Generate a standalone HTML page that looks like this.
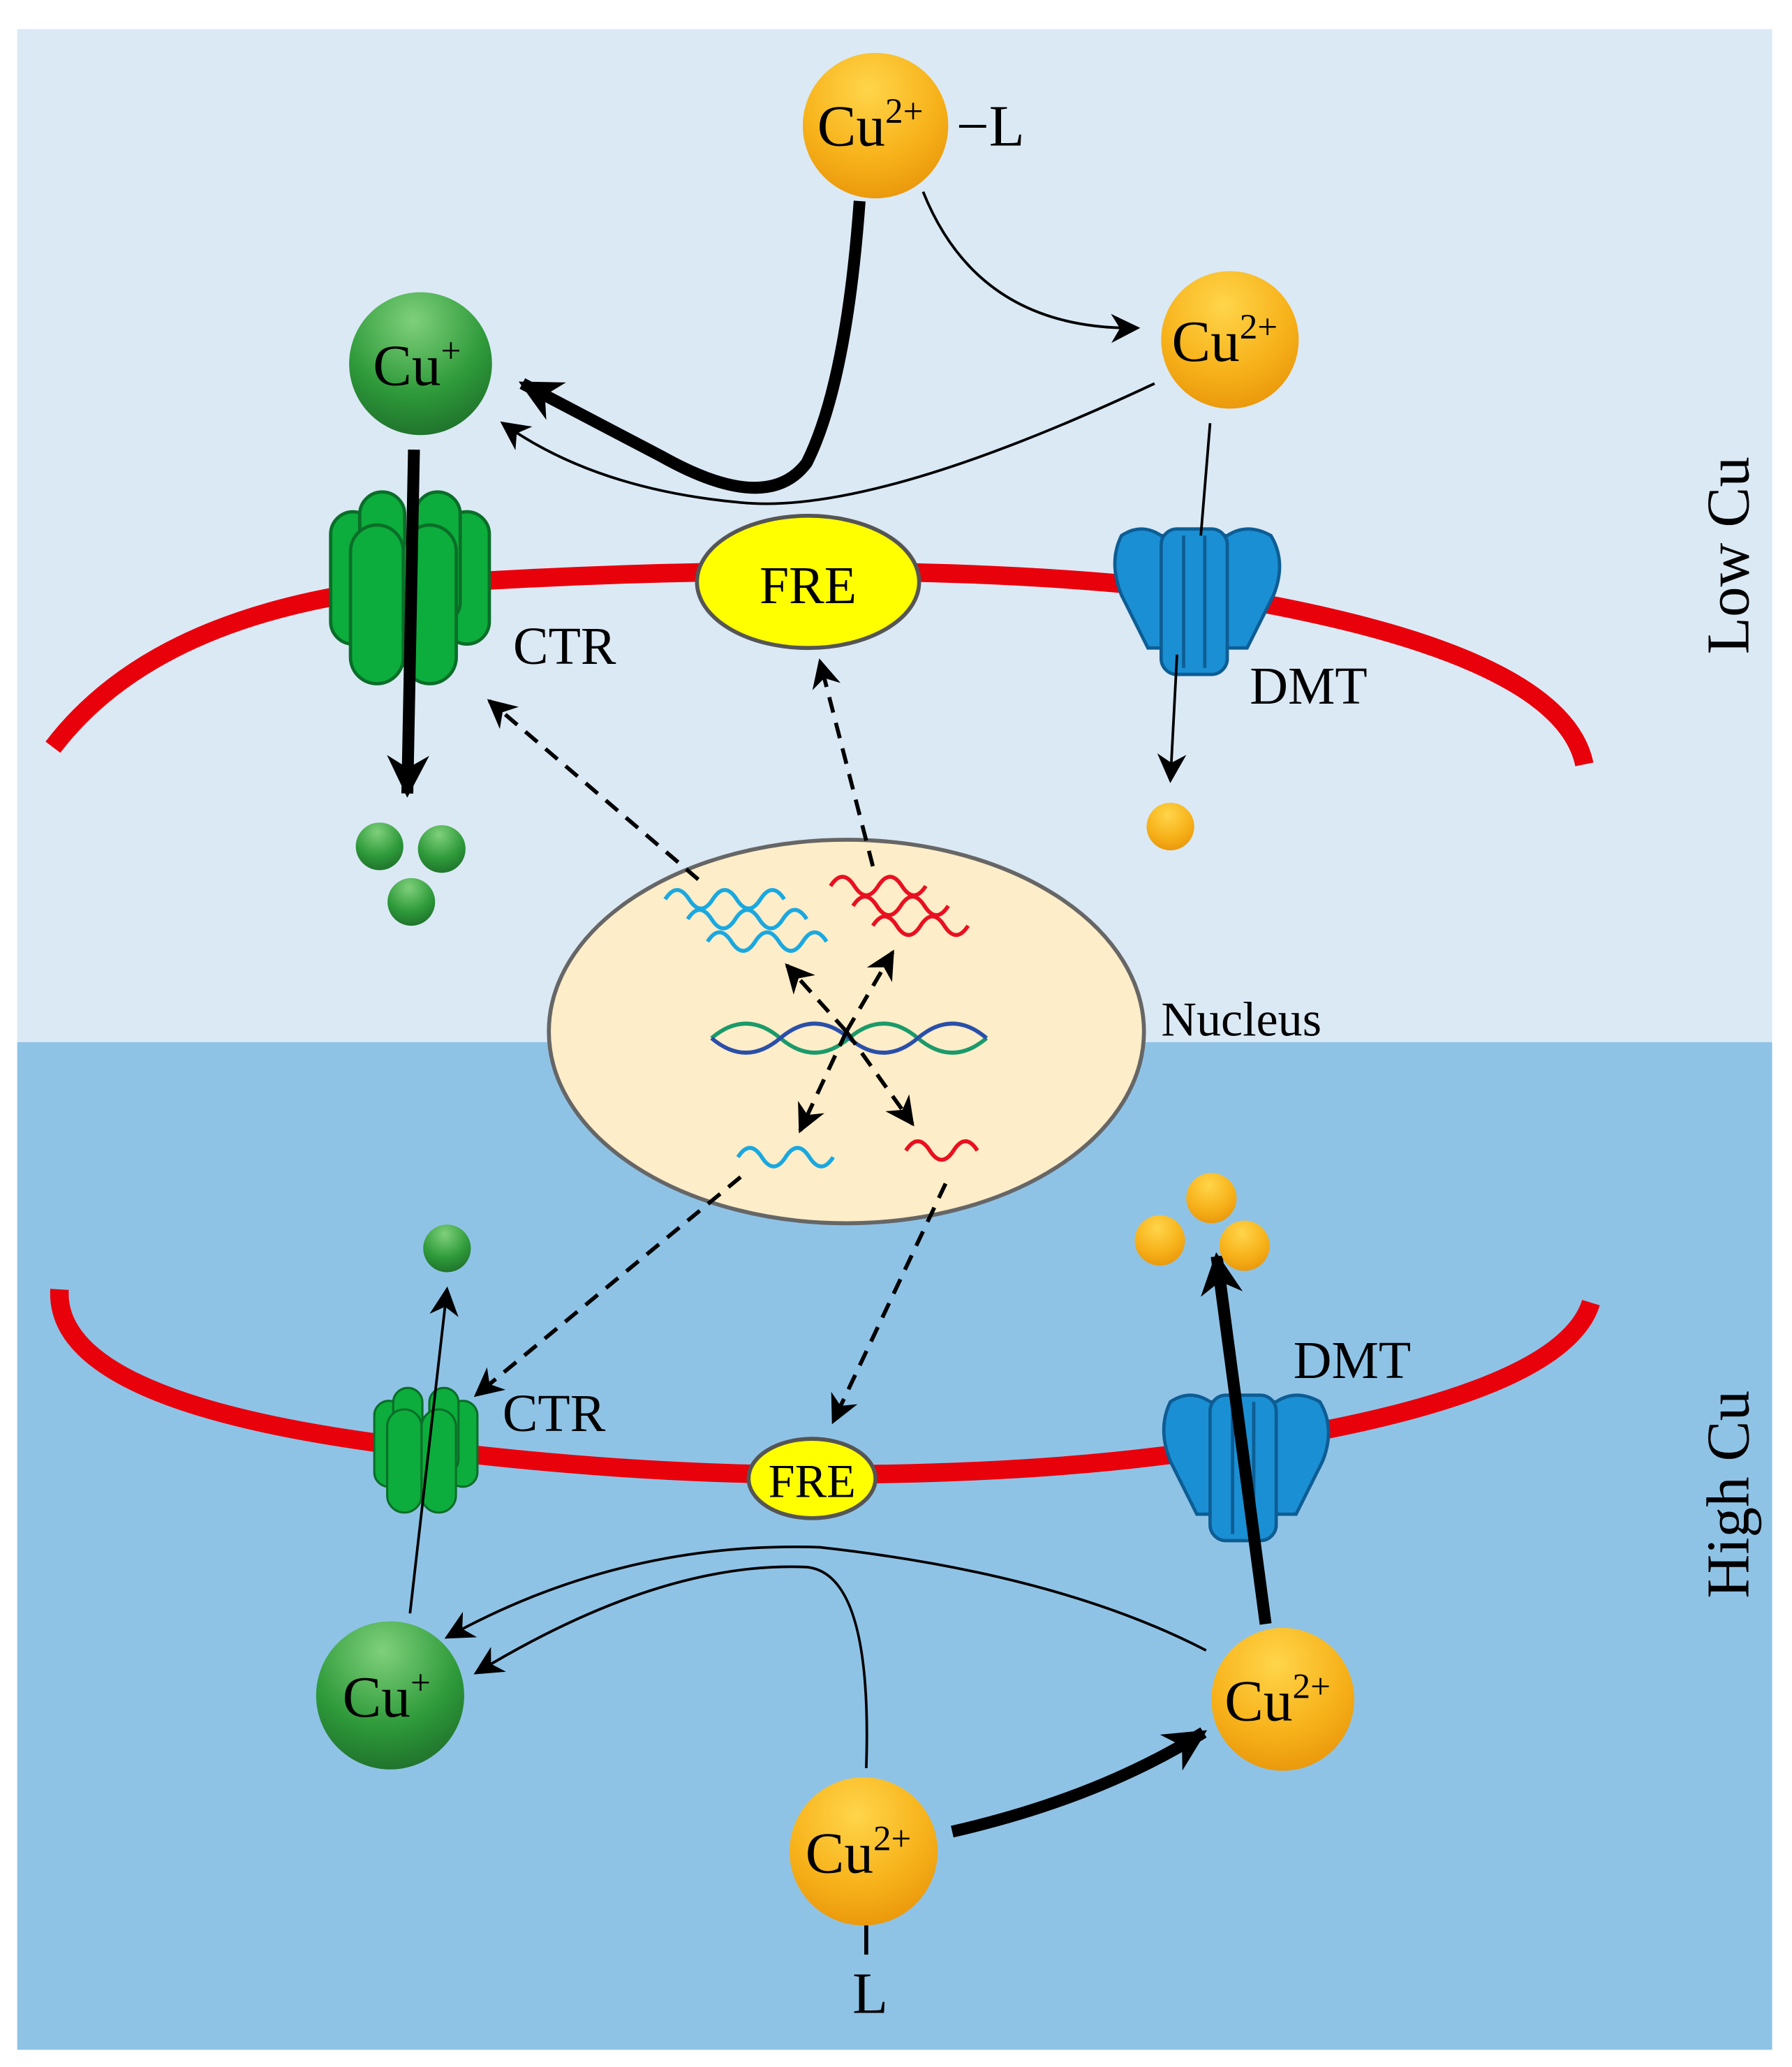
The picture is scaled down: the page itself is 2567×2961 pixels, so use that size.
<!DOCTYPE html>
<html><head><meta charset="utf-8"><style>html,body{margin:0;padding:0;background:#fff}svg{display:block}</style></head>
<body>
<svg width="2567" height="2961" viewBox="0 0 1355 1563" xmlns="http://www.w3.org/2000/svg" font-family="'Liberation Serif',serif">
<defs>
<radialGradient id="og" cx="0.45" cy="0.25" r="0.8"><stop offset="0" stop-color="#ffd54a"/><stop offset="0.6" stop-color="#f7b21a"/><stop offset="1" stop-color="#e8950a"/></radialGradient>
<radialGradient id="gg" cx="0.45" cy="0.2" r="0.85"><stop offset="0" stop-color="#7fd07a"/><stop offset="0.6" stop-color="#2e9a3a"/><stop offset="1" stop-color="#1e6e2a"/></radialGradient>
<marker id="ahs" viewBox="0 0 10 10" markerWidth="26" markerHeight="22" refX="9" refY="5" orient="auto" markerUnits="userSpaceOnUse"><path d="M0,0 L10,5 L0,10 L3,5z" fill="#000"/></marker>
<marker id="ahb" viewBox="0 0 10 10" markerWidth="38" markerHeight="32" refX="9" refY="5" orient="auto" markerUnits="userSpaceOnUse"><path d="M0,0 L10,5 L0,10 L3,5z" fill="#000"/></marker>
<g id="ctr">
<rect x="-60" y="-55" width="34" height="100" rx="17" fill="#0cad3c" stroke="#0a6e28" stroke-width="2.5"/>
<rect x="26" y="-55" width="34" height="100" rx="17" fill="#0cad3c" stroke="#0a6e28" stroke-width="2.5"/>
<rect x="-38" y="-70" width="34" height="100" rx="17" fill="#0cad3c" stroke="#0a6e28" stroke-width="2.5"/>
<rect x="4" y="-70" width="34" height="100" rx="17" fill="#0cad3c" stroke="#0a6e28" stroke-width="2.5"/>
<rect x="-45" y="-45" width="40" height="120" rx="20" fill="#0cad3c" stroke="#0a6e28" stroke-width="2.5"/>
<rect x="-5" y="-45" width="40" height="120" rx="20" fill="#0cad3c" stroke="#0a6e28" stroke-width="2.5"/>
</g>
<g id="dmt">
<path d="M-55,-45 Q-65,-25 -55,0 L-35,40 L40,40 L60,0 Q70,-25 58,-45 Q40,-55 25,-45 L-25,-45 Q-40,-55 -55,-45z" fill="#1b8fd3" stroke="#0d5d94" stroke-width="2.5"/>
<rect x="-25" y="-50" width="50" height="110" rx="12" fill="#1b8fd3" stroke="#0d5d94" stroke-width="2.5"/>
<line x1="-8" y1="-45" x2="-8" y2="55" stroke="#0d5d94" stroke-width="2.5"/>
<line x1="8" y1="-45" x2="8" y2="55" stroke="#0d5d94" stroke-width="2.5"/>
</g>
</defs>
<rect width="1355" height="1563" fill="#fff"/>
<rect x="13" y="22" width="1327" height="766" fill="#dbe9f5"/>
<rect x="13" y="788" width="1327" height="762" fill="#8fc3e6"/>

<path d="M40,565 Q120,460 320,442 Q470,432 611,432 Q780,432 900,447 Q1180,490 1198,578" fill="none" stroke="#e8000b" stroke-width="14"/>
<path d="M45,975 Q40,1060 300,1093 Q470,1115 615,1115 Q780,1115 900,1098 Q1180,1060 1203,985" fill="none" stroke="#e8000b" stroke-width="14"/>

<ellipse cx="640" cy="780" rx="225" ry="145" fill="#fdedc8" stroke="#666" stroke-width="3"/>
<text x="878" y="783" font-size="37">Nucleus</text>
<path d="M538,785 q26,-22 52,0 t52,0 t52,0 t52,0" fill="none" stroke="#1a9a6a" stroke-width="3"/>
<path d="M538,785 q26,22 52,0 t52,0 t52,0 t52,0" fill="none" stroke="#2a4fa8" stroke-width="3"/>
<g fill="none" stroke="#1aa8e0" stroke-width="3">
<path d="M503,680 q9,-14 18,0 t18,0 t18,0 t18,0 t18,0"/>
<path d="M520,695 q9,-14 18,0 t18,0 t18,0 t18,0 t18,0"/>
<path d="M535,712 q9,-14 18,0 t18,0 t18,0 t18,0 t18,0"/>
<path d="M558,875 q9,-14 18,0 t18,0 t18,0 t18,0"/>
</g>
<g fill="none" stroke="#e81020" stroke-width="3">
<path d="M628,670 q9,-14 18,0 t18,0 t18,0 t18,0"/>
<path d="M645,685 q9,-14 18,0 t18,0 t18,0 t18,0"/>
<path d="M660,700 q9,-14 18,0 t18,0 t18,0 t18,0"/>
<path d="M685,870 q9,-14 18,0 t18,0 t18,0"/>
</g>
<g stroke="#000" stroke-width="3" stroke-dasharray="12,8" fill="none" marker-end="url(#ahs)">
<line x1="528" y1="665" x2="370" y2="530"/>
<line x1="660" y1="655" x2="620" y2="500"/>
<line x1="640" y1="780" x2="595" y2="730"/>
<line x1="640" y1="780" x2="675" y2="720"/>
<line x1="640" y1="780" x2="605" y2="855"/>
<line x1="640" y1="780" x2="690" y2="850"/>
<line x1="560" y1="890" x2="360" y2="1055"/>
<line x1="715" y1="895" x2="630" y2="1075"/>
</g>

<use href="#ctr" x="310" y="442"/>
<use href="#dmt" x="903" y="450"/>
<ellipse cx="611" cy="440" rx="84" ry="50" fill="#ffff00" stroke="#555" stroke-width="3"/>
<text x="611" y="456" font-size="40" text-anchor="middle">FRE</text>
<text x="388" y="502" font-size="40">CTR</text>
<text x="945" y="532" font-size="40">DMT</text>

<use href="#ctr" x="322" y="1095" transform="translate(322,1095) scale(0.65) translate(-322,-1095)"/>
<use href="#dmt" x="940" y="1105"/>
<ellipse cx="614" cy="1118" rx="48" ry="30" fill="#ffff00" stroke="#555" stroke-width="3"/>
<text x="614" y="1132" font-size="36" text-anchor="middle">FRE</text>
<text x="380" y="1082" font-size="40">CTR</text>
<text x="978" y="1042" font-size="40">DMT</text>

<path d="M650,152 Q640,290 610,350 Q580,390 500,345 L395,290" fill="none" stroke="#000" stroke-width="9" marker-end="url(#ahb)"/>
<path d="M698,145 Q740,250 860,248" fill="none" stroke="#000" stroke-width="2" marker-end="url(#ahs)"/>
<path d="M873,290 Q660,390 560,380 Q450,370 380,320" fill="none" stroke="#000" stroke-width="2" marker-end="url(#ahs)"/>
<line x1="915" y1="320" x2="908" y2="405" stroke="#000" stroke-width="2"/>
<line x1="890" y1="495" x2="885" y2="590" stroke="#000" stroke-width="2" marker-end="url(#ahs)"/>
<line x1="313" y1="340" x2="308" y2="600" stroke="#000" stroke-width="9" marker-end="url(#ahb)"/>

<line x1="310" y1="1220" x2="338" y2="975" stroke="#000" stroke-width="2" marker-end="url(#ahs)"/>
<path d="M912,1248 Q800,1190 620,1170 Q470,1165 338,1238" fill="none" stroke="#000" stroke-width="2" marker-end="url(#ahs)"/>
<path d="M655,1337 Q660,1190 610,1185 Q500,1180 360,1265" fill="none" stroke="#000" stroke-width="2" marker-end="url(#ahs)"/>
<path d="M720,1385 Q830,1360 910,1310" fill="none" stroke="#000" stroke-width="9" marker-end="url(#ahb)"/>
<line x1="957" y1="1228" x2="920" y2="950" stroke="#000" stroke-width="9" marker-end="url(#ahb)"/>
<line x1="655" y1="1455" x2="655" y2="1478" stroke="#000" stroke-width="3"/>

<g fill="url(#gg)"><circle cx="287" cy="640" r="18"/><circle cx="334" cy="642" r="18"/><circle cx="311" cy="682" r="18"/><circle cx="338" cy="944" r="18"/></g>
<g fill="url(#og)"><circle cx="885" cy="625" r="18"/><circle cx="916" cy="906" r="19"/><circle cx="877" cy="938" r="19"/><circle cx="941" cy="942" r="19"/></g>

<circle cx="662" cy="95" r="55" fill="url(#og)"/>
<text x="618" y="110" font-size="44">Cu<tspan font-size="27" dy="-17">2+</tspan></text>
<text x="723" y="110" font-size="44">−L</text>
<circle cx="930" cy="257" r="52" fill="url(#og)"/>
<text x="886" y="273" font-size="44">Cu<tspan font-size="27" dy="-17">2+</tspan></text>
<circle cx="318" cy="275" r="54" fill="url(#gg)"/>
<text x="282" y="291" font-size="44">Cu<tspan font-size="27" dy="-17">+</tspan></text>
<circle cx="295" cy="1282" r="56" fill="url(#gg)"/>
<text x="259" y="1298" font-size="44">Cu<tspan font-size="27" dy="-17">+</tspan></text>
<circle cx="970" cy="1285" r="54" fill="url(#og)"/>
<text x="926" y="1301" font-size="44">Cu<tspan font-size="27" dy="-17">2+</tspan></text>
<circle cx="653" cy="1400" r="56" fill="url(#og)"/>
<text x="609" y="1416" font-size="44">Cu<tspan font-size="27" dy="-17">2+</tspan></text>
<text x="658" y="1522" font-size="44" text-anchor="middle">L</text>

<text transform="translate(1322,420) rotate(-90)" font-size="46" text-anchor="middle">Low Cu</text>
<text transform="translate(1322,1130) rotate(-90)" font-size="46" text-anchor="middle">High Cu</text>
</svg>
</body></html>
